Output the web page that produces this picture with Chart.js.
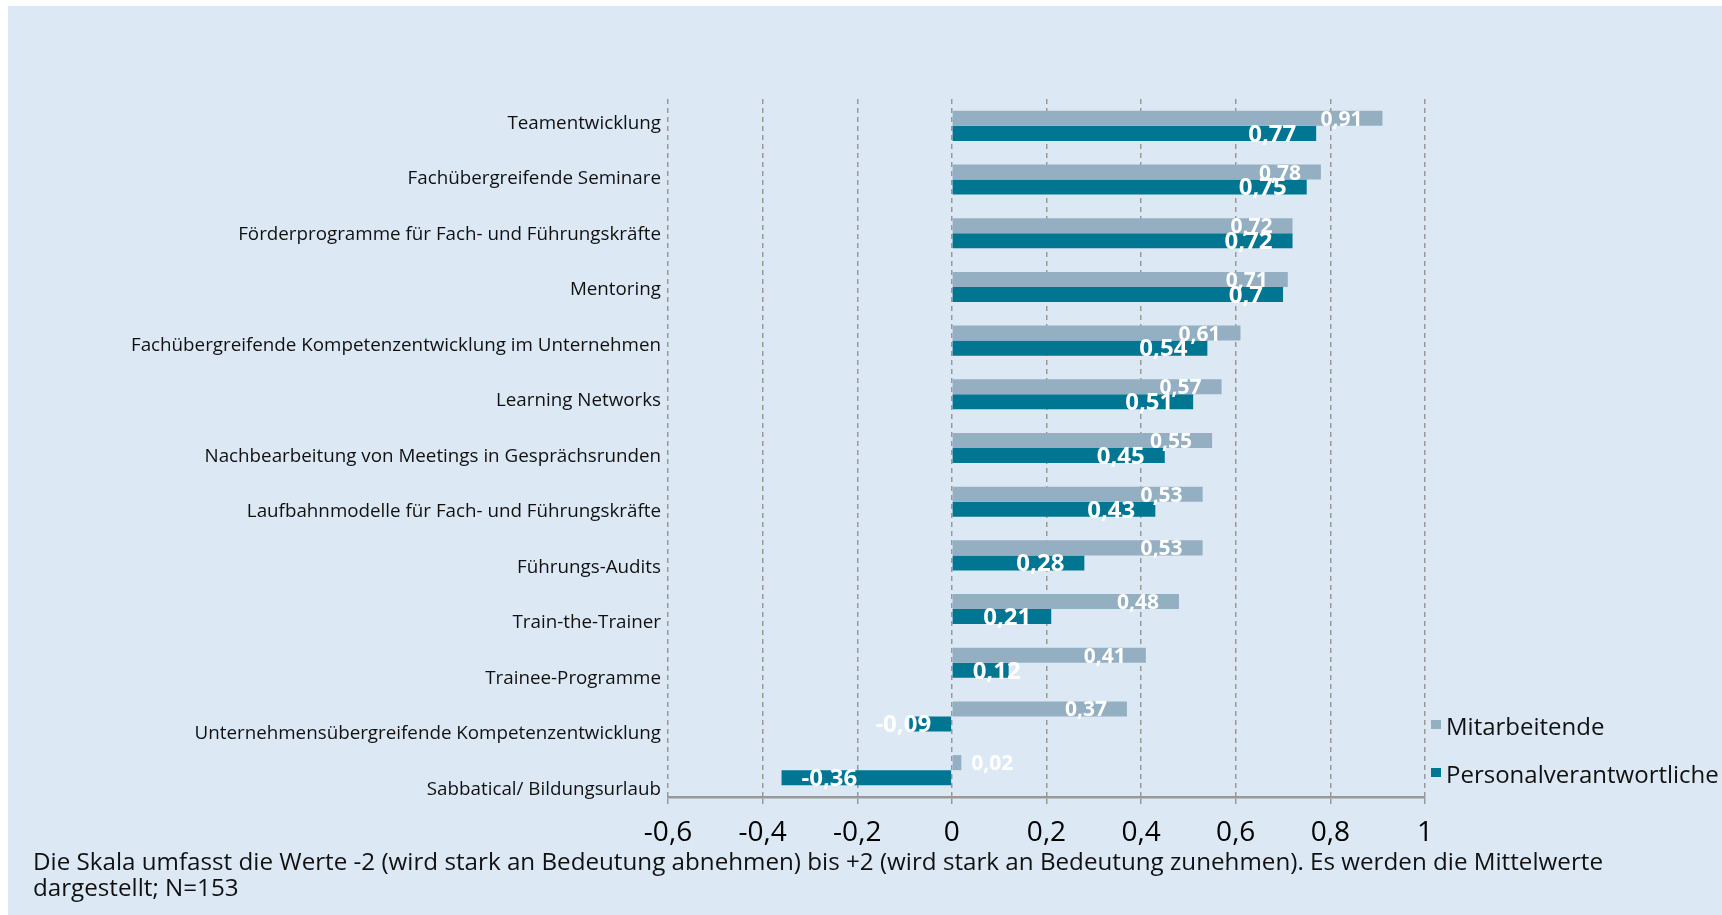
<!DOCTYPE html>
<html><head><meta charset="utf-8">
<script src="https://cdn.jsdelivr.net/npm/chart.js@4.4.1/dist/chart.umd.min.js"></script>
<style>
html,body{margin:0;padding:0;background:#fff;overflow:hidden;}
#bg{position:absolute;left:8px;top:6px;width:1714px;height:909px;background:#dce9f5;}
#wrap{position:absolute;left:0;top:0;width:1722px;height:915px;}
#note{position:absolute;left:33px;top:848px;font-family:"Open Sans";font-size:24.2px;line-height:26px;color:#111;width:1670px;}
</style></head><body>
<div id="bg"></div>
<div id="wrap"><canvas id="c" width="1722" height="915"></canvas></div>
<div id="note">Die Skala umfasst die Werte -2 (wird stark an Bedeutung abnehmen) bis +2 (wird stark an Bedeutung zunehmen). Es werden die Mittelwerte<br>dargestellt; N=153</div>
<script>
const categories = [
  "Teamentwicklung",
  "Fachübergreifende Seminare",
  "Förderprogramme für Fach- und Führungskräfte",
  "Mentoring",
  "Fachübergreifende Kompetenzentwicklung im Unternehmen",
  "Learning Networks",
  "Nachbearbeitung von Meetings in Gesprächsrunden",
  "Laufbahnmodelle für Fach- und Führungskräfte",
  "Führungs-Audits",
  "Train-the-Trainer",
  "Trainee-Programme",
  "Unternehmensübergreifende Kompetenzentwicklung",
  "Sabbatical/ Bildungsurlaub"
];
const seriesNames = ["Mitarbeitende", "Personalverantwortliche"];
const mitarbeitende = [0.91, 0.78, 0.72, 0.71, 0.61, 0.57, 0.55, 0.53, 0.53, 0.48, 0.41, 0.37, 0.02];
const personalverantwortliche = [0.77, 0.75, 0.72, 0.7, 0.54, 0.51, 0.45, 0.43, 0.28, 0.21, 0.12, -0.09, -0.36];
const xMin = -0.6, xMax = 1, xStep = 0.2;

const GRAY = '#95afc2', TEAL = '#007693';
const fmt = v => String(Math.round(v * 100) / 100).replace('.', ',');

const labelPlugin = {
  id: 'vlabels',
  afterDatasetsDraw(chart) {
    const ctx = chart.ctx;
    chart.data.datasets.forEach((ds, di) => {
      const meta = chart.getDatasetMeta(di);
      ctx.save();
      ctx.font = di === 0 ? 'bold 21px "Open Sans"' : 'bold 24px "Open Sans"';
      ctx.fillStyle = '#ffffff';
      ctx.textBaseline = 'middle';
      ctx.textAlign = 'left';
      meta.data.forEach((el, i) => {
        const v = ds.data[i];
        const t = fmt(v);
        const w = ctx.measureText(t).width;
        const pad = 20;
        let left;
        if (v >= 0) {
          if (el.x - el.base < 20) left = el.x + 10;
          else left = Math.max(el.base + pad, el.x - pad - w);
        } else {
          const right = Math.min(el.x + pad + w, el.base - pad);
          left = right - w;
        }
        ctx.fillText(t, left, el.y + 1.5);
      });
      ctx.restore();
    });
  },
  afterDraw(chart) {
    const ctx = chart.ctx;
    ctx.save();
    ctx.font = '24px "Open Sans"';
    ctx.textBaseline = 'middle';
    ctx.textAlign = 'left';
    const ys = [728, 776];
    chart.data.datasets.forEach((ds, di) => {
      ctx.fillStyle = ds.backgroundColor;
      ctx.fillRect(1431, ys[di] - 8, 10, 9);
      ctx.fillStyle = '#111';
      ctx.fillText(ds.label, 1446, ys[di]);
    });
    ctx.restore();
  }
};

new Chart(document.getElementById('c'), {
  type: 'bar',
  data: {
    labels: categories,
    datasets: [
      { label: seriesNames[0], data: mitarbeitende, backgroundColor: GRAY, categoryPercentage: 0.56, barPercentage: 1.0 },
      { label: seriesNames[1], data: personalverantwortliche, backgroundColor: TEAL, categoryPercentage: 0.56, barPercentage: 1.0 }
    ]
  },
  options: {
    indexAxis: 'y',
    responsive: false,
    animation: false,
    devicePixelRatio: 1,
    layout: { padding: { top: 99, right: 297, left: 0, bottom: 0 } },
    plugins: { legend: { display: false }, tooltip: { enabled: false } },
    scales: {
      x: {
        min: xMin, max: xMax,
        afterFit(s) { s.height = 118; },
        ticks: {
          stepSize: xStep,
          color: '#000',
          font: { family: 'Open Sans', size: 28 },
          padding: 12,
          callback: v => fmt(v)
        },
        grid: { color: '#999', lineWidth: 1.5, tickLength: 7, tickColor: '#999', tickWidth: 1.5, tickBorderDash: [] },
        border: { display: true, color: '#999', width: 2.5, dash: [5, 4] }
      },
      y: {
        display: false
      },
      yl: {
        type: 'linear',
        position: 'left',
        reverse: true,
        offset: false,
        bounds: 'data',
        min: -0.441,
        max: 12.135,
        afterBuildTicks(s) { s.ticks = categories.map((c, i) => ({ value: i })); },
        afterFit(s) { s.width = 668; },
        ticks: {
          autoSkip: false,
          color: '#111',
          font: { family: 'Open Sans', size: 18.8 },
          padding: 7,
          callback: (v, i) => categories[i] !== undefined ? categories[i] : ''
        },
        grid: { display: false, drawTicks: false, offset: false },
        border: { display: false }
      }
    }
  },
  plugins: [labelPlugin]
});
</script>
</body></html>
